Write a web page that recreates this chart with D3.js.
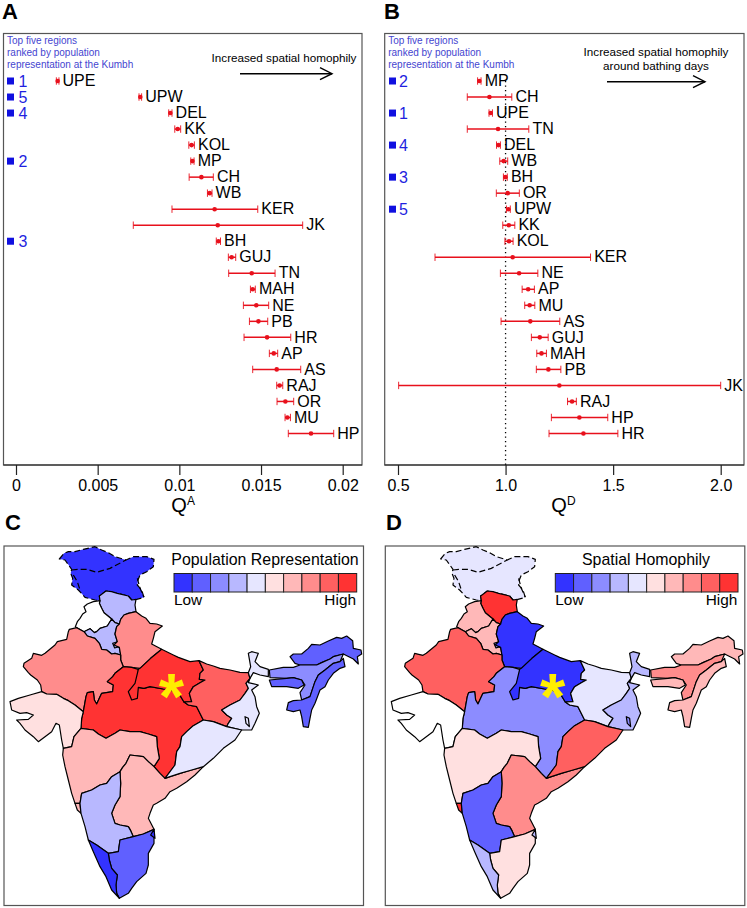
<!DOCTYPE html>
<html>
<head>
<meta charset="utf-8">
<script src="https://cdn.jsdelivr.net/npm/d3@7"></script>
<style>
  html, body { margin: 0; padding: 0; background: #fff; }
  svg { display: block; }
  text { font-family: "Liberation Sans", Arial, sans-serif; }
</style>
</head>
<body>
<svg id="chart" width="747" height="908"></svg>
<script>
// panel A
const regionsA = ['UPE', 'UPW', 'DEL', 'KK', 'KOL', 'MP', 'CH', 'WB', 'KER', 'JK', 'BH', 'GUJ', 'TN', 'MAH', 'NE', 'PB', 'HR', 'AP', 'AS', 'RAJ', 'OR', 'MU', 'HP']
const meanA = [0.00255, 0.00761, 0.00945, 0.0099, 0.01075, 0.0108, 0.01135, 0.01186, 0.01216, 0.01235, 0.01239, 0.0132, 0.01443, 0.01449, 0.01471, 0.01484, 0.01537, 0.01578, 0.01596, 0.01614, 0.01649, 0.01661, 0.01806]
const lowA = [0.00247, 0.00753, 0.00935, 0.00972, 0.01058, 0.0107, 0.0106, 0.01172, 0.00955, 0.00718, 0.01226, 0.013, 0.01302, 0.01435, 0.01392, 0.01429, 0.01396, 0.01551, 0.01449, 0.01596, 0.01598, 0.01647, 0.01667]
const highA = [0.00263, 0.00769, 0.00955, 0.01008, 0.01092, 0.0109, 0.01208, 0.012, 0.0148, 0.01755, 0.01252, 0.01345, 0.01586, 0.01465, 0.01547, 0.01541, 0.01682, 0.01602, 0.01743, 0.01633, 0.017, 0.0168, 0.01945]

// panel B
const regionsB = ['MP', 'CH', 'UPE', 'TN', 'DEL', 'WB', 'BH', 'OR', 'UPW', 'KK', 'KOL', 'KER', 'NE', 'AP', 'MU', 'AS', 'GUJ', 'MAH', 'PB', 'JK', 'RAJ', 'HP', 'HR']
const meanB = [0.878, 0.925, 0.931, 0.965, 0.967, 0.991, 0.999, 1.01, 1.013, 1.015, 1.016, 1.033, 1.063, 1.105, 1.112, 1.115, 1.159, 1.167, 1.199, 1.25, 1.309, 1.343, 1.362]
const lowB = [0.87, 0.822, 0.923, 0.822, 0.958, 0.973, 0.99, 0.957, 1.004, 0.987, 0.997, 0.672, 0.976, 1.077, 1.089, 0.979, 1.12, 1.145, 1.143, 0.503, 1.288, 1.213, 1.202]
const highB = [0.886, 1.029, 0.939, 1.108, 0.976, 1.01, 1.008, 1.064, 1.022, 1.043, 1.035, 1.395, 1.15, 1.134, 1.136, 1.252, 1.198, 1.19, 1.257, 2.0, 1.329, 1.475, 1.522]

// rank = position + 1
const topFive = ['UPE', 'MP', 'BH', 'DEL', 'UPW']
const ticksA = [0, 0.005, 0.01, 0.015, 0.02]
const tickLabelsA = ['0', '0.005', '0.01', '0.015', '0.02']
const ticksB = [0.5, 1, 1.5, 2]
const tickLabelsB = ['0.5', '1.0', '1.5', '2.0']

// map
const binColors = ['#3333ff', '#6060ff', '#8c8cff', '#b8b8ff', '#e6e6ff', '#ffe0e0', '#ffb8b8', '#ff8c8c', '#ff6060', '#ff3333']
const mapRegions = ['JK', 'HP', 'PB', 'HR', 'DEL', 'UPW', 'RAJ', 'MP', 'UPE', 'BH', 'WB', 'KOL', 'ARU', 'AS', 'MEG', 'SNE', 'GUJ', 'MAH', 'GOA', 'AP', 'OR', 'KAR', 'TN', 'KER', 'PY']
const popBins = [0, 3, null, 3, 3, 7, 7, 9, 9, 8, 4, 4, 1, 2, 1, 1, 5, 6, 6, 6, 4, 3, 1, 0, 0]
const homBins = [4, 9, 6, 6, 2, 0, 8, 2, 0, 4, 3, 2, 6, 7, 6, 6, null, 5, 9, 7, 8, 1, 5, 3, 3]

// shared borders, in map units (3 units = 1px)
const gujRaj = [[125, 545], [140, 552], [170, 553], [190, 565], [205, 572], [225, 585], [250, 605]]
const hrRajBorder = [[252, 365], [262, 378], [285, 385], [298, 400], [305, 418], [320, 420], [335, 432], [345, 430], [362, 435]]
const pbHr = [[252, 365], [270, 356], [283, 368], [290, 365], [300, 355], [322, 348], [335, 327]]
const hpPb = [[300, 272], [298, 280], [305, 295], [312, 308], [335, 327]]
const hpHr = [[335, 327], [345, 338], [358, 342]]
const hpUpw = [[358, 342], [362, 328], [372, 315], [385, 310], [408, 305]]
const hrUpw = [[358, 342], [350, 350], [345, 372], [352, 395], [342, 405], [358, 412], [362, 435]]
const rajUpw = [[362, 435], [362, 450], [370, 470]]
const rajMp = [[370, 470], [345, 490], [338, 500], [322, 515], [340, 525], [338, 545], [305, 550], [298, 565], [290, 582], [283, 570], [280, 545], [262, 548], [258, 560], [250, 605]]
const gujMp = [[250, 605], [245, 625], [243, 655]]
const mahMp = [[243, 655], [280, 660], [295, 672], [318, 685], [345, 670], [360, 660], [390, 665], [420, 665], [445, 672], [470, 680], [472, 710], [478, 745], [462, 770]]
const apMp = [[462, 770], [480, 790], [495, 805]]
const mpOr = [[495, 805], [525, 765], [530, 725], [540, 710], [545, 680], [560, 665], [580, 647], [610, 630]]
const bhMp = [[610, 630], [590, 590], [565, 585], [552, 576]]
const mpUp = [[552, 576], [535, 548], [510, 540], [490, 537], [450, 530], [432, 535], [415, 532]]
const upBh = [[552, 576], [575, 575], [568, 550], [580, 530], [600, 518], [615, 510], [598, 508], [600, 490], [610, 480], [597, 452]]
const bhWb = [[745, 488], [750, 505], [738, 520], [745, 535], [735, 550], [720, 570], [690, 585], [665, 600], [680, 615], [695, 625], [685, 640], [680, 650]]
const bhOr = [[680, 650], [640, 635], [610, 630]]
const mahAp = [[462, 770], [445, 755], [430, 740], [390, 735], [378, 760], [368, 772], [360, 785]]
const apOrCoast = [[495, 805], [510, 800], [540, 790], [575, 780], [610, 770]]
const apKar = [[400, 980], [392, 962], [385, 950], [360, 945], [345, 940], [335, 910], [345, 885], [360, 860], [362, 820], [360, 785]]
const karMah = [[360, 785], [335, 800], [320, 820], [300, 825], [275, 840], [245, 850]]
const apTn = [[462, 958], [430, 972], [400, 980]]
const karTn = [[325, 1030], [355, 1025], [360, 990], [400, 980]]
const karKer = [[265, 990], [290, 1005], [325, 1030]]
const kerTn = [[325, 1030], [328, 1050], [335, 1075], [352, 1095], [348, 1125], [350, 1150], [358, 1165]]
const rev = a => a.slice().reverse()

const mapOutlines = {
  JK: [[178, 147], [192, 130], [205, 125], [225, 125], [250, 118], [285, 110], [305, 120], [325, 128], [345, 140], [378, 150], [400, 140], [440, 140], [462, 148], [460, 170], [440, 185], [420, 195], [414, 210], [412, 225], [425, 240], [432, 262], [410, 268], [395, 270], [385, 258], [352, 250], [318, 243], [298, 258], [300, 272], [285, 270], [255, 262], [235, 240], [215, 225], [218, 205], [212, 190], [215, 178], [195, 150]],
  HP: [[300, 272], [298, 258], [318, 243], [335, 245], [352, 250], [385, 258], [395, 270], [408, 268], [405, 285], ...rev(hpUpw), ...rev(hpHr), ...rev(hpPb)],
  PB: [[300, 272], [280, 275], [262, 282], [252, 290], [258, 305], [248, 312], [240, 325], [232, 335], [226, 350], [252, 365], ...pbHr, ...rev(hpPb)],
  HR: [...pbHr, ...hpHr, ...hrUpw, ...rev(hrRajBorder)],
  DEL: [[338, 400], [350, 396], [356, 410], [344, 414]],
  UPW: [...rev(hpUpw), ...hrUpw, ...rajUpw, [395, 472], [420, 475], [452, 445], [485, 418], [455, 402], [460, 385], [465, 365], [487, 348], [470, 342], [450, 340], [438, 325], [425, 318]],
  RAJ: [[125, 545], [122, 525], [112, 510], [92, 495], [85, 488], [70, 470], [72, 460], [95, 445], [100, 430], [125, 436], [135, 430], [165, 405], [172, 395], [200, 388], [205, 365], [208, 358], [230, 353], ...hrRajBorder, ...rajUpw, ...rajMp, ...rev(gujRaj)],
  MP: [...rajMp, ...gujMp, ...mahMp, ...apMp, ...mpOr, ...bhMp, ...mpUp, [415, 478], [395, 472]],
  UPE: [[420, 475], [415, 478], [405, 520], [385, 545], [395, 570], [412, 565], [415, 532], ...rev(mpUp), ...upBh, [570, 455], [535, 442], [520, 435], [485, 418], [452, 445]],
  BH: [[597, 452], [620, 462], [640, 468], [660, 475], [690, 480], [720, 487], ...bhWb, ...bhOr, ...bhMp, ...upBh],
  WB: [[745, 488], [752, 470], [745, 430], [755, 425], [775, 430], [765, 455], [780, 470], [805, 478], [805, 500], [780, 495], [760, 488], [750, 505], [745, 518], [775, 525], [755, 540], [765, 560], [770, 590], [778, 610], [765, 640], [755, 660], [725, 660], ...rev(bhWb)],
  KOL: [[735, 620], [745, 625], [748, 650], [738, 640]],
  ARU: [[870, 440], [880, 432], [905, 432], [925, 415], [935, 403], [960, 405], [985, 393], [1010, 382], [1025, 385], [1040, 378], [1058, 392], [1060, 415], [1083, 420], [1085, 432], [1072, 440], [1075, 462], [1060, 447], [1030, 432], [1000, 440], [990, 447], [965, 458], [950, 465], [900, 465], [885, 460]],
  AS: [[808, 480], [850, 472], [880, 472], [900, 465], [950, 465], [965, 458], [990, 447], [1000, 440], [1030, 432], [1020, 455], [1000, 460], [975, 480], [955, 495], [945, 515], [935, 545], [930, 560], [905, 570], [900, 548], [915, 525], [905, 510], [880, 503], [860, 505], [810, 503]],
  MEG: [[808, 510], [860, 505], [880, 503], [905, 510], [912, 525], [895, 535], [860, 530], [815, 530]],
  SNE: [[1020, 455], [1030, 445], [1035, 470], [1020, 475], [1000, 490], [985, 510], [975, 530], [960, 540], [945, 580], [935, 600], [930, 625], [925, 652], [910, 650], [905, 620], [900, 600], [880, 605], [860, 600], [865, 578], [880, 572], [905, 570], [930, 560], [935, 545], [945, 515], [955, 495], [975, 480], [1000, 460]],
  GUJ: [[190, 715], [185, 690], [178, 645], [168, 640], [155, 665], [135, 680], [115, 695], [100, 680], [75, 660], [60, 640], [50, 630], [85, 628], [100, 615], [80, 608], [60, 610], [35, 600], [30, 575], [55, 565], [90, 555], ...gujRaj, ...gujMp, [222, 680], [215, 710]],
  MAH: [...karMah, [240, 880], [225, 880], [215, 850], [205, 810], [195, 770], [188, 735], [190, 715], [215, 710], [222, 680], ...mahMp, ...mahAp],
  GOA: [[225, 880], [240, 880], [243, 910], [232, 900]],
  AP: [...rev(mahAp), ...apMp, ...apOrCoast, [585, 795], [560, 815], [530, 835], [510, 845], [495, 865], [470, 880], [460, 885], [450, 910], [445, 925], ...apTn, ...apKar],
  OR: [...mpOr, ...rev(bhOr), [725, 660], [705, 690], [670, 715], [640, 745], ...rev(apOrCoast)],
  KAR: [...karMah, [240, 880], [243, 910], [255, 950], ...karKer, ...karTn, ...apKar],
  TN: [...rev(apTn), [462, 1000], [445, 1030], [445, 1065], [438, 1090], [410, 1115], [395, 1135], [385, 1150], ...rev(kerTn), ...karTn],
  KER: [...karKer, ...kerTn, [335, 1140], [318, 1100], [300, 1070], [280, 1025]],
  PY: [[462, 958], [465, 985], [452, 975]]
}
// JK internal dashed lines
const jkLines = [
  [[215, 180], [235, 178], [260, 178], [290, 187], [330, 175], [378, 150]],
  [[220, 195], [232, 215], [240, 240]],
  [[412, 205], [420, 235], [432, 262]]
]

const svg = d3.select('#chart')
const ink = '#000'
const frameColor = '#555'

const panelLetter = (text, x, y) => {
  svg.append('text').attr('x', x).attr('y', y)
    .style('font-size', '22px').style('font-weight', 'bold').style('fill', ink)
    .text(text)
}

const drawArrow = (x1, x2, y) => {
  const g = svg.append('g').attr('fill', 'none').attr('stroke', ink).attr('stroke-width', 1.4)
  g.append('line').attr('x1', x1).attr('x2', x2).attr('y1', y).attr('y2', y)
  g.append('polyline').attr('points', `${x2 - 12},${y - 6} ${x2},${y} ${x2 - 12},${y + 6}`)
}

const forestPanel = ({ regions, domain, range, left, right, ticks, tickLabels, sup, rankX }) => {
  const top = 33.5
  const bottom = 465
  const x = d3.scaleLinear().domain(domain).range(range)
  const y = d3.scalePoint().domain(regions).range([81, 433.5])

  svg.append('rect')
    .attr('x', left).attr('y', top).attr('width', right - left).attr('height', bottom - top)
    .attr('fill', 'none').attr('stroke', frameColor).attr('stroke-width', 1.2)
  svg.append('line')
    .attr('x1', left).attr('x2', right).attr('y1', bottom).attr('y2', bottom)
    .attr('stroke', '#222').attr('stroke-width', 1.2)

  const axis = d3.axisBottom(x).tickValues(ticks).tickSize(10).tickPadding(5)
    .tickFormat((d, i) => tickLabels[i])
  const axisG = svg.append('g').attr('transform', `translate(0,${bottom})`).call(axis)
  axisG.select('.domain').remove()
  axisG.selectAll('line').attr('stroke', '#222').attr('stroke-width', 1.2)
  axisG.selectAll('text').style('font-size', '16px').style('fill', ink)

  const mid = (range[0] + range[1]) / 2
  const label = svg.append('text').attr('x', mid - 8).attr('y', 511.5)
    .style('fill', ink).style('font-size', '20px').text('Q')
  label.append('tspan').attr('dy', -7).style('font-size', '12px').text(sup)

  // blue header
  const header = ['Top five regions', 'ranked by population', 'representation at the Kumbh']
  svg.selectAll(null).data(header).enter().append('text')
    .attr('x', left + 3.5).attr('y', (d, i) => 43.5 + i * 12)
    .style('font-size', '10px').style('fill', '#4545d0')
    .text(d => d)

  return { x, y, rankX }
}

const drawRows = ({ x, y, rankX }, regions, mean, low, high) => {
  const rows = regions.map((name, i) => ({ name, mean: mean[i], low: low[i], high: high[i] }))
  const row = svg.selectAll(null).data(rows).enter().append('g')
    .attr('transform', d => `translate(0,${y(d.name)})`)
  const red = '#e8101c'
  row.append('line')
    .attr('x1', d => x(d.low)).attr('x2', d => x(d.high))
    .attr('stroke', red).attr('stroke-width', 1.5)
  row.append('line')
    .attr('x1', d => x(d.low)).attr('x2', d => x(d.low)).attr('y1', -3.7).attr('y2', 3.7)
    .attr('stroke', red).attr('stroke-width', 0.9)
  row.append('line')
    .attr('x1', d => x(d.high)).attr('x2', d => x(d.high)).attr('y1', -3.7).attr('y2', 3.7)
    .attr('stroke', red).attr('stroke-width', 0.9)
  row.append('circle')
    .attr('cx', d => x(d.mean)).attr('r', 2.3).attr('fill', red)
  row.append('text')
    .attr('x', d => x(d.high) + 3.6).attr('y', 5.2)
    .style('font-size', '16px').style('fill', ink)
    .text(d => d.name)

  const ranked = svg.selectAll(null).data(topFive).enter().append('g')
    .attr('transform', d => `translate(${rankX},${y(d)})`)
  ranked.append('rect').attr('x', 0).attr('y', -3.5).attr('width', 7).attr('height', 7).attr('fill', '#1010e0')
  ranked.append('text').attr('x', rankX < 100 ? 11.5 : 10).attr('y', 6)
    .style('font-size', '16px').style('fill', '#1f1fe0')
    .text((d, i) => i + 1)
}

const mapPanel = ({ left, bins, title, legendX, titleX }) => {
  const top = 546
  const size = 359.5
  svg.append('rect')
    .attr('x', left).attr('y', top).attr('width', size).attr('height', size)
    .attr('fill', 'none').attr('stroke', frameColor).attr('stroke-width', 1.2)

  const color = d3.scaleOrdinal(d3.range(10), binColors).unknown('#fff')
  const projection = d3.geoIdentity().scale(1 / 3).translate([left - 4, 510])
  const path = d3.geoPath(projection)
  const features = mapRegions.map((name, i) => ({
    type: 'Feature',
    properties: { name, bin: bins[i] },
    geometry: { type: 'Polygon', coordinates: [mapOutlines[name].concat([mapOutlines[name][0]])] }
  }))

  svg.append('g').selectAll('path').data(features).enter().append('path')
    .attr('d', path)
    .attr('fill', d => d.properties.bin === null ? '#fff' : color(d.properties.bin))
    .attr('stroke', '#000').attr('stroke-width', 1.2).attr('stroke-linejoin', 'round')
    .attr('stroke-dasharray', d => d.properties.name === 'JK' ? '6 3' : null)

  svg.append('path')
    .attr('d', path({ type: 'MultiLineString', coordinates: jkLines }))
    .attr('fill', 'none').attr('stroke', '#000').attr('stroke-width', 1.2).attr('stroke-dasharray', '6 3')

  // star on the Kumbh site
  const [sx, sy] = projection([514, 522])
  svg.append('text').attr('x', sx).attr('y', sy + 35)
    .attr('text-anchor', 'middle')
    .style('font-size', '65px').style('font-weight', 'bold').style('fill', '#ffee00')
    .text('*')

  // legend
  const lx = d3.scaleBand().domain(d3.range(10)).range([legendX, legendX + 182.7])
  svg.append('text').attr('x', titleX).attr('y', 565).attr('text-anchor', 'middle')
    .style('font-size', '15.9px').style('fill', ink).text(title)
  svg.append('g').selectAll('rect').data(d3.range(10)).enter().append('rect')
    .attr('x', d => lx(d)).attr('y', 573.5).attr('width', lx.bandwidth()).attr('height', 18.5)
    .attr('fill', d => binColors[d]).attr('stroke', '#222').attr('stroke-width', 1)
  svg.append('text').attr('x', legendX).attr('y', 605).style('font-size', '15.4px').style('fill', ink).text('Low')
  svg.append('text').attr('x', legendX + 182).attr('y', 605).attr('text-anchor', 'end')
    .style('font-size', '15.4px').style('fill', ink).text('High')
}

panelLetter('A', 2, 19)
panelLetter('B', 384, 19)
panelLetter('C', 5, 530)
panelLetter('D', 386, 530)

const panelA = forestPanel({
  regions: regionsA, domain: [0, 0.02], range: [16, 342.7], left: 3.5, right: 362,
  ticks: ticksA, tickLabels: tickLabelsA, sup: 'A', rankX: 7
})
drawRows(panelA, regionsA, meanA, lowA, highA)

const panelB = forestPanel({
  regions: regionsB, domain: [0.5, 2], range: [398, 720.7], left: 384.7, right: 744,
  ticks: ticksB, tickLabels: tickLabelsB, sup: 'D', rankX: 389
})
svg.append('line')
  .attr('x1', panelB.x(1)).attr('x2', panelB.x(1)).attr('y1', 81).attr('y2', 465)
  .attr('stroke', ink).attr('stroke-width', 1.3).attr('stroke-dasharray', '1.3 3.2')
drawRows(panelB, regionsB, meanB, lowB, highB)

svg.append('text').attr('x', 284).attr('y', 62).attr('text-anchor', 'middle')
  .style('font-size', '11.7px').style('fill', ink).text('Increased spatial homophily')
drawArrow(240, 332, 73.7)
svg.append('text').attr('x', 656).attr('y', 55.5).attr('text-anchor', 'middle')
  .style('font-size', '11.7px').style('fill', ink).text('Increased spatial homophily')
svg.append('text').attr('x', 656).attr('y', 69.5).attr('text-anchor', 'middle')
  .style('font-size', '11.7px').style('fill', ink).text('around bathing days')
drawArrow(607, 705, 81.7)

mapPanel({ left: 4, bins: popBins, title: 'Population Representation', legendX: 174, titleX: 265 })
mapPanel({ left: 385.3, bins: homBins, title: 'Spatial Homophily', legendX: 555.3, titleX: 646 })
</script>
</body>
</html>
